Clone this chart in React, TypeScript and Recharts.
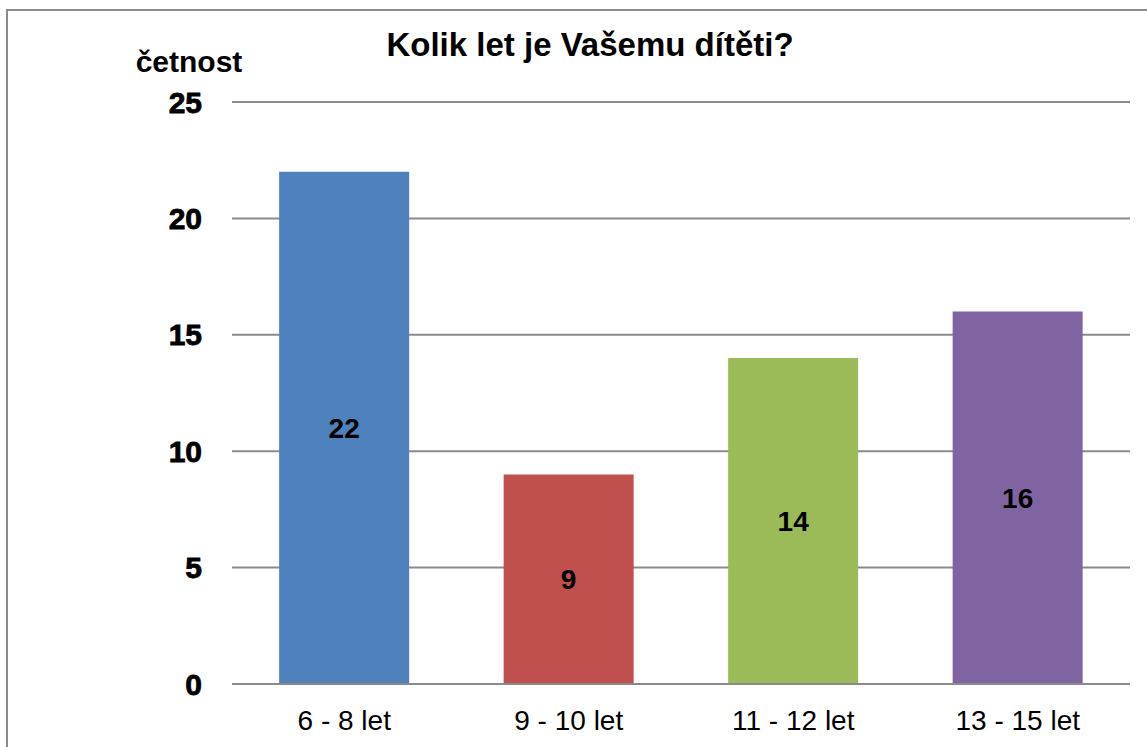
import React from 'react';
import { BarChart, Bar, XAxis, YAxis, CartesianGrid, Cell, LabelList } from 'recharts';

const categories = ['6 - 8 let', '9 - 10 let', '11 - 12 let', '13 - 15 let'];
const counts = [22, 9, 14, 16];
const yTicks = [0, 5, 10, 15, 20, 25];

const barColors = ['#4F81BD', '#C0504D', '#9BBB59', '#8064A2'];
const font = '"Liberation Sans", Arial, sans-serif';

const data = categories.map((name, i) => ({ name, value: counts[i] }));

const App: React.FC = () => {
    return (
        <div style={{ position: 'absolute', left: 0, top: 0, width: 1147, height: 747, overflow: 'hidden', background: '#fff', fontFamily: font }}>
            <div style={{
                position: 'absolute',
                left: 6,
                top: 9,
                width: 1200,
                height: 800,
                border: '2px solid #8a8a8a'
            }} />
            <div style={{
                position: 'absolute',
                left: 590,
                top: 28,
                transform: 'translateX(-50%)',
                whiteSpace: 'nowrap',
                fontSize: 33,
                lineHeight: '33px',
                fontWeight: 'bold',
                color: '#000'
            }}>
                Kolik let je Vašemu dítěti?
            </div>
            <div style={{
                position: 'absolute',
                left: 189,
                top: 47,
                transform: 'translateX(-50%)',
                whiteSpace: 'nowrap',
                fontSize: 30,
                lineHeight: '30px',
                fontWeight: 'bold',
                color: '#000'
            }}>
                četnost
            </div>
            <div style={{ position: 'absolute', left: 0, top: 0 }}>
                <BarChart
                    width={1147}
                    height={747}
                    data={data}
                    margin={{ top: 102, right: 17, left: 0, bottom: 0 }}
                    barCategoryGap="21%"
                >
                    <CartesianGrid horizontal vertical={false} stroke="#8a8a8a" strokeWidth={2} />
                    <XAxis
                        dataKey="name"
                        height={63}
                        tickSize={0}
                        tickMargin={26}
                        axisLine={{ stroke: '#8a8a8a', strokeWidth: 2 }}
                        tickLine={false}
                        tick={{ fontSize: 28, fill: '#000', fontFamily: font }}
                        interval={0}
                    />
                    <YAxis
                        width={232}
                        domain={[0, 25]}
                        ticks={yTicks}
                        tickSize={0}
                        tickMargin={30}
                        axisLine={false}
                        tickLine={false}
                        tick={{ fontSize: 30, fontWeight: 'bold', fill: '#000', stroke: '#000', strokeWidth: 0.8, fontFamily: font }}
                    />
                    <Bar dataKey="value" isAnimationActive={false}>
                        {data.map((d, i) => (
                            <Cell key={d.name} fill={barColors[i]} />
                        ))}
                        <LabelList
                            dataKey="value"
                            position="center"
                            fill="#000"
                            style={{ fontSize: 28, fontWeight: 'bold', fontFamily: font }}
                        />
                    </Bar>
                </BarChart>
            </div>
        </div>
    );
};

export default App;
